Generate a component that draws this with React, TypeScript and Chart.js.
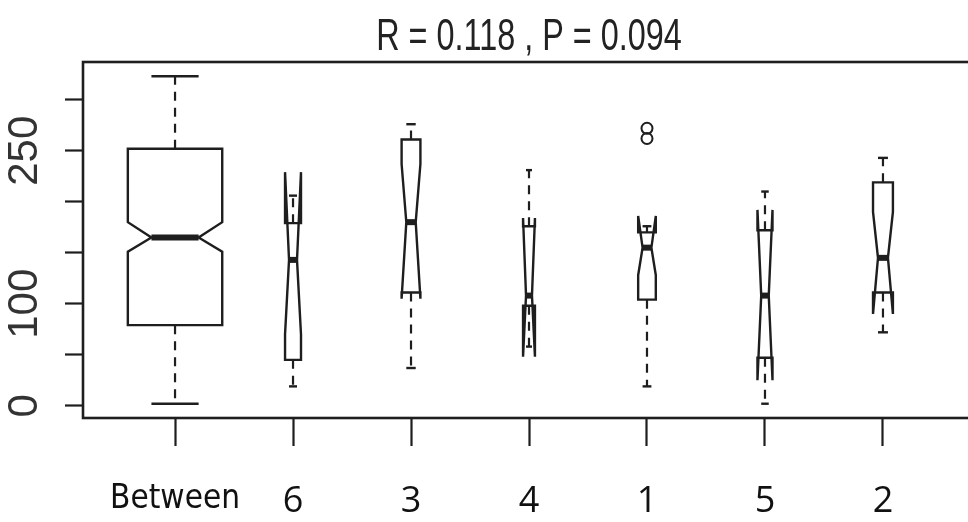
import React, { useEffect, useRef } from 'react';
import { Chart, registerables } from 'chart.js';

Chart.register(...registerables);

// ---- data ----
const categories = ['Between', '6', '3', '4', '1', '5', '2'];
const groupSizes = [630, 18, 25, 10, 22, 16, 28];
const whiskerLow = [2, 19, 37, 58, 19, 2, 72];
const lowerHinge = [79, 45, 111, 98, 104, 47, 111];
const medians = [165, 143, 180, 108, 155, 108, 145];
const upperHinge = [252, 179, 261, 176, 170, 172, 219];
const whiskerHigh = [323, 206, 276, 231, 176, 210, 243];
const notchLow = [151, 70, 105, 48, 128, 25, 90];
const notchHigh = [180, 229, 237, 184, 186, 192, 190];
const outlierGroup = [5, 5];
const outlierValues = [272, 262];
const yTickValues = [0, 50, 100, 150, 200, 250, 300];
const yTickLabelled = [0, 100, 250];
const xTickValues = [1, 2, 3, 4, 5, 6, 7];
const titleText = 'R = 0.118 , P = 0.094';

const INK = '#1e1e1e';
const CONDENSED = "'DejaVu Sans Condensed', 'Liberation Sans Narrow', sans-serif";

const titlePlugin = {
  id: 'narrowTitle',
  afterDraw(chart: any) {
    const { ctx, chartArea } = chart;
    const cx = (chartArea.left + chartArea.right) / 2;
    ctx.save();
    ctx.fillStyle = '#222';
    ctx.font = "45px 'Liberation Sans', Arial, sans-serif";
    ctx.textAlign = 'center';
    ctx.textBaseline = 'alphabetic';
    ctx.translate(cx, 50);
    ctx.scale(0.72, 1);
    ctx.fillText(titleText, 0, 0);
    ctx.restore();
  },
};

const notchedBoxPlugin = {
  id: 'notchedBoxes',
  beforeDatasetsDraw(chart: any) {
    const { ctx } = chart;
    const xs = chart.scales.x;
    const ys = chart.scales.y;
    const Y = (v: number) => ys.getPixelForValue(v);
    const nMax = Math.max(...groupSizes);
    const notchFrac = 0.5;
    ctx.save();
    ctx.strokeStyle = INK;
    ctx.lineCap = 'butt';
    ctx.lineJoin = 'miter';
    const seg = (x1: number, y1: number, x2: number, y2: number) => {
      ctx.beginPath();
      ctx.moveTo(x1, y1);
      ctx.lineTo(x2, y2);
      ctx.stroke();
    };
    categories.forEach((_, i) => {
      const pos = i + 1;
      const w = 0.8 * Math.sqrt(groupSizes[i] / nMax);
      const cx = xs.getPixelForValue(pos);
      const hw = xs.getPixelForValue(pos + w / 2) - cx;
      // notched box polygon, drawn the way R's bxp() does it
      const fx = [-1, 1, 1, notchFrac, 1, 1, -1, -1, -notchFrac, -1];
      const vy = [
        lowerHinge[i], lowerHinge[i], notchLow[i], medians[i], notchHigh[i],
        upperHinge[i], upperHinge[i], notchHigh[i], medians[i], notchLow[i],
      ];
      ctx.lineWidth = 2.4;
      ctx.setLineDash([]);
      ctx.beginPath();
      fx.forEach((f, k) => {
        const px = cx + f * hw;
        const py = Y(vy[k]);
        if (k === 0) ctx.moveTo(px, py);
        else ctx.lineTo(px, py);
      });
      ctx.closePath();
      ctx.stroke();
      // median
      ctx.lineWidth = 6;
      seg(cx - hw * notchFrac, Y(medians[i]), cx + hw * notchFrac, Y(medians[i]));
      // whiskers
      ctx.lineWidth = 2.2;
      ctx.setLineDash([9, 7]);
      seg(cx, Y(lowerHinge[i]), cx, Y(whiskerLow[i]));
      seg(cx, Y(upperHinge[i]), cx, Y(whiskerHigh[i]));
      ctx.setLineDash([]);
      // staples
      ctx.lineWidth = 2.4;
      seg(cx - hw * 0.5, Y(whiskerLow[i]), cx + hw * 0.5, Y(whiskerLow[i]));
      seg(cx - hw * 0.5, Y(whiskerHigh[i]), cx + hw * 0.5, Y(whiskerHigh[i]));
    });
    ctx.restore();
  },
  afterDraw(chart: any) {
    const { ctx, chartArea } = chart;
    ctx.save();
    ctx.strokeStyle = INK;
    ctx.lineWidth = 2.6;
    ctx.strokeRect(chartArea.left, chartArea.top, chartArea.right - chartArea.left, chartArea.bottom - chartArea.top);
    ctx.restore();
  },
};

export default function App() {
  const canvasRef = useRef<HTMLCanvasElement | null>(null);

  useEffect(() => {
    document.body.style.margin = '0';
    document.body.style.overflow = 'hidden';
    const canvas = canvasRef.current;
    if (!canvas) return;
    const chart = new Chart(canvas, {
      type: 'scatter',
      data: {
        datasets: [
          {
            label: 'outliers',
            data: outlierGroup.map((g, k) => ({ x: g, y: outlierValues[k] })),
            pointRadius: 5.5,
            pointHoverRadius: 5.5,
            pointBackgroundColor: 'rgba(0,0,0,0)',
            pointBorderColor: INK,
            pointBorderWidth: 2,
          },
        ],
      },
      options: {
        animation: false,
        responsive: false,
        devicePixelRatio: 1,
        layout: { padding: { left: 0, right: 35, top: 62, bottom: 0 } },
        plugins: {
          legend: { display: false },
          tooltip: { enabled: false },
          title: { display: false },
        },
        scales: {
          x: {
            type: 'linear',
            min: 0.22,
            max: 7.78,
            afterBuildTicks: (axis: any) => {
              axis.ticks = xTickValues.map((v) => ({ value: v }));
            },
            afterFit: (axis: any) => {
              axis.height = 104;
            },
            border: { display: false },
            grid: {
              display: true,
              drawOnChartArea: false,
              drawTicks: true,
              tickLength: 28,
              tickWidth: 2.2,
              tickColor: INK,
            },
            ticks: {
              autoSkip: false,
              maxRotation: 0,
              minRotation: 0,
              padding: 34,
              color: '#111',
              callback: (v: any) => categories[Number(v) - 1] ?? '',
              font: (c: any) =>
                c.index === 0
                  ? { family: CONDENSED, size: 33 }
                  : { family: "'Open Sans', 'Noto Sans', sans-serif", size: 36 },
            },
          },
          y: {
            type: 'linear',
            min: -12,
            max: 337,
            afterBuildTicks: (axis: any) => {
              axis.ticks = yTickValues.map((v) => ({ value: v }));
            },
            afterFit: (axis: any) => {
              axis.width = 83;
            },
            border: { display: false },
            grid: {
              display: true,
              drawOnChartArea: false,
              drawTicks: true,
              tickLength: 18,
              tickWidth: 2.2,
              tickColor: INK,
            },
            ticks: {
              autoSkip: false,
              minRotation: 90,
              maxRotation: 90,
              crossAlign: 'center',
              padding: 5,
              color: '#333',
              font: { family: "'Liberation Sans', Arial, sans-serif", size: 42 },
              callback: (v: any) => (yTickLabelled.includes(Number(v)) ? String(v) : ''),
            },
          },
        },
      },
      plugins: [notchedBoxPlugin, titlePlugin],
    } as any);
    return () => chart.destroy();
  }, []);

  return (
    <div style={{ position: 'fixed', left: 0, top: 0, width: 968, height: 522, overflow: 'hidden', background: '#fff' }}>
      <canvas ref={canvasRef} width={1010} height={522} style={{ width: 1010, height: 522, display: 'block' }} />
    </div>
  );
}
